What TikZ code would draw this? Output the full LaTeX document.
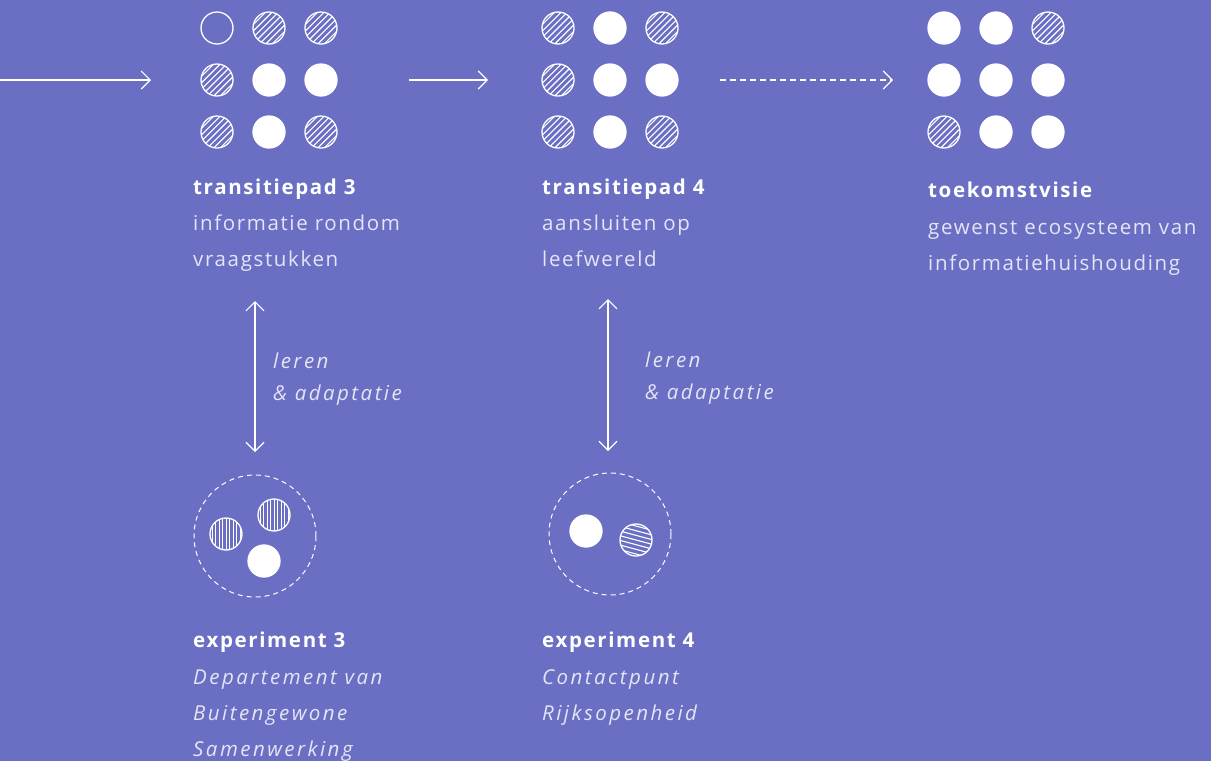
\documentclass[tikz,border=0pt]{standalone}
\usepackage{fontspec}
\setmainfont{Open Sans}[LetterSpace=8]
\newfontfamily\itfam{Open Sans}[LetterSpace=12]
\usetikzlibrary{arrows.meta}
\definecolor{bg}{HTML}{6A6FC4}
\definecolor{txt}{HTML}{E4E5F5}
\tikzset{
  dot/.style={circle, minimum size=32pt, inner sep=0pt, draw=white, line width=1.3pt},
  full/.style={dot, fill=white},
  empty/.style={dot},
  hatch/.style={dot, path picture={
      \foreach \d in {-22.5,-18,...,22.5}
        \draw[white, line width=1.1pt, shift={(path picture bounding box.center)}]
          (#1+90:\d) ++(#1:-25) -- ++(#1:50);}},
  vhatch/.style={dot, path picture={
      \foreach \d in {-21,-17.5,...,21}
        \draw[white, line width=1pt, shift={(path picture bounding box.center)}]
          (\d,-25) -- (\d,25);}},
  ring/.style={circle, minimum size=122pt, inner sep=0pt, draw=white, line width=1pt, dash pattern=on 5pt off 4pt},
  arr/.style={draw=white, line width=1.1pt, -{Straight Barb[length=9pt,width=18pt,line width=1.1pt]}},
  darr/.style={draw=white, line width=1.1pt, {Straight Barb[length=9pt,width=18pt,line width=1.1pt]}-{Straight Barb[length=9pt,width=18pt,line width=1.1pt]}},
  title/.style={anchor=base west, inner sep=0pt, text=white, font=\fontsize{20.5}{24}\selectfont\bfseries},
  body/.style={anchor=base west, inner sep=0pt, text=txt, font=\fontsize{20.5}{24}\selectfont},
  ital/.style={anchor=base west, inner sep=0pt, text=txt, font=\itfam\fontsize{20.5}{24}\selectfont\itshape},
}
\begin{document}
\begin{tikzpicture}[x=1pt,y=1pt]
\fill[bg] (0,0) rectangle (1211,-761);
\useasboundingbox (0,0) rectangle (1211,-761);

% grid 1
\node[empty] (a11) at (217,-28) {};
\node[hatch=45] (a12) at (269,-28) {};
\node[hatch=45] (a13) at (321,-28) {};
\node[hatch=45] (a21) at (217,-80) {};
\node[full] (a22) at (269,-80) {};
\node[full] (a23) at (321,-80) {};
\node[hatch=45] (a31) at (217,-132) {};
\node[full] (a32) at (269,-132) {};
\node[hatch=45] (a33) at (321,-132) {};

% grid 2
\node[hatch=45] (b11) at (558,-28) {};
\node[full] (b12) at (610,-28) {};
\node[hatch=45] (b13) at (662,-28) {};
\node[hatch=45] (b21) at (558,-80) {};
\node[full] (b22) at (610,-80) {};
\node[full] (b23) at (662,-80) {};
\node[hatch=45] (b31) at (558,-132) {};
\node[full] (b32) at (610,-132) {};
\node[hatch=45] (b33) at (662,-132) {};

% grid 3
\node[full] (c11) at (944,-28) {};
\node[full] (c12) at (996,-28) {};
\node[hatch=45] (c13) at (1048,-28) {};
\node[full] (c21) at (944,-80) {};
\node[full] (c22) at (996,-80) {};
\node[full] (c23) at (1048,-80) {};
\node[hatch=45] (c31) at (944,-132) {};
\node[full] (c32) at (996,-132) {};
\node[full] (c33) at (1048,-132) {};

% horizontal arrows
\coordinate (s0) at (0,-80);
\coordinate (e0) at (151,-80);
\coordinate (s1) at (409,-80);
\coordinate (e1) at (488,-80);
\coordinate (s2) at (720,-80);
\coordinate (e2) at (893,-80);
\draw[arr] (s0) -- (e0);
\draw[arr] (s1) -- (e1);
\draw[arr, dash pattern=on 6pt off 4pt] (s2) -- (e2);

% texts top
\node[title] (t3) at (193,-194) {transitiepad 3};
\node[body] (t3a) at (193,-230) {informatie rondom};
\node[body] (t3b) at (193,-266) {vraagstukken};

\node[title] (t4) at (542,-194) {transitiepad 4};
\node[body] (t4a) at (542,-230) {aansluiten op};
\node[body] (t4b) at (542,-266) {leefwereld};

\node[title] (tv) at (928,-197) {toekomstvisie};
\node[body] (tva) at (928,-234) {gewenst ecosysteem van};
\node[body] (tvb) at (928,-270) {informatiehuishouding};

% vertical arrows
\coordinate (v1t) at (255,-301);
\coordinate (v1b) at (255,-452);
\coordinate (v2t) at (608,-299);
\coordinate (v2b) at (608,-451);
\draw[darr] (v1t) -- (v1b);
\draw[darr] (v2t) -- (v2b);
\node[ital] (l1) at (273,-368) {leren};
\node[ital] (l1b) at (273,-400) {\& adaptatie};
\node[ital] (l2) at (645,-367) {leren};
\node[ital] (l2b) at (645,-399) {\& adaptatie};

% experiment 3
\node[ring] (r3) at (255,-536) {};
\node[vhatch] (e3a) at (226,-534) {};
\node[vhatch] (e3b) at (274,-515) {};
\node[full] (e3c) at (264,-561) {};

% experiment 4
\node[ring] (r4) at (610,-534) {};
\node[full] (e4a) at (586,-531) {};
\node[hatch=-15] (e4b) at (636,-540) {};

% texts bottom
\node[title] (x3) at (193,-647) {experiment 3};
\node[ital] (x3a) at (193,-684) {Departement van};
\node[ital] (x3b) at (193,-720) {Buitengewone};
\node[ital] (x3c) at (193,-756) {Samenwerking};

\node[title] (x4) at (542,-647) {experiment 4};
\node[ital] (x4a) at (542,-684) {Contactpunt};
\node[ital] (x4b) at (542,-720) {Rijksopenheid};
\end{tikzpicture}
\end{document}
